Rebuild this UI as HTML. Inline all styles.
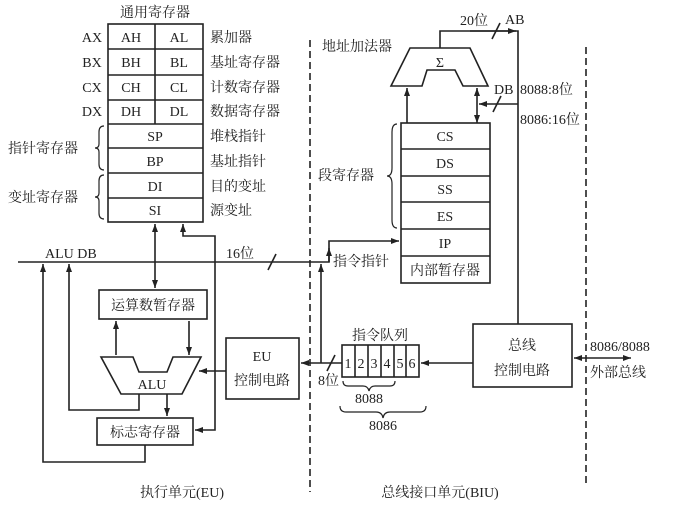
<!DOCTYPE html>
<html><head><meta charset="utf-8"><style>
body{margin:0;background:#fff}
svg{display:block}
text{font-family:"Liberation Serif","Noto Serif CJK SC","Noto Sans CJK SC",serif;font-size:14px;fill:#222}
.c{text-anchor:middle}
</style></head><body>
<svg width="686" height="514" viewBox="0 0 686 514" xmlns="http://www.w3.org/2000/svg">
<defs><marker id="a" markerWidth="8" markerHeight="6" refX="8" refY="3" orient="auto-start-reverse" markerUnits="userSpaceOnUse"><path d="M0,0 L8,3 L0,6z" fill="#222"/></marker></defs>
<g fill="none" stroke="#222" stroke-width="1.6">
<!-- general registers -->
<rect x="108" y="24" width="95" height="198"/>
<path d="M108 49H203M108 75H203M108 100H203M108 124H203M108 148H203M108 173H203M108 198H203M155 24V124"/>
<!-- braces -->
<path d="M104 126 q-5 0 -5 6 v12 q0 4 -4 4 q4 0 4 4 v12 q0 6 5 6" stroke-width="1.2"/>
<path d="M104 175 q-5 0 -5 6 v12 q0 4 -4 4 q4 0 4 4 v12 q0 6 5 6" stroke-width="1.2"/>
<path d="M397 124 q-5 0 -5 8 v36 q0 8 -5 8 q5 0 5 8 v36 q0 8 5 8" stroke-width="1.2"/>
<!-- arrows from reg block -->
<path d="M155 224V288" marker-start="url(#a)" marker-end="url(#a)"/>
<path d="M183 224V236H215V430H195" marker-start="url(#a)" marker-end="url(#a)"/>
<!-- ALU DB bus -->
<path d="M18 262H329V241H399" marker-end="url(#a)"/>
<path d="M329 262V248" marker-end="url(#a)"/>
<path d="M268 270L276 254"/>
<!-- 运算数暂存器 -->
<rect x="99" y="290" width="108" height="29"/>
<path d="M116 321V355M189 321V355" marker-start="url(#a)" marker-end="url(#a)"/>
<!-- ALU -->
<path d="M101 357H133L139 372H167L173 357H201L182 394H121Z"/>
<path d="M226 371H199" marker-end="url(#a)"/>
<path d="M167 394V416" marker-end="url(#a)"/>
<rect x="97" y="418" width="96" height="27"/>
<path d="M139 394V410H69V264" marker-end="url(#a)"/>
<path d="M145 445V462H43V264" marker-end="url(#a)"/>
<!-- EU control -->
<rect x="226" y="338" width="73" height="61"/>
<path d="M342 363H301" marker-end="url(#a)"/>
<path d="M321 363V264" marker-end="url(#a)"/>
<path d="M327 371L335 355"/>
<!-- queue -->
<rect x="342" y="345" width="77" height="32"/>
<path d="M355 345V377M368 345V377M381 345V377M394 345V377M406 345V377"/>
<path d="M473 363H421" marker-end="url(#a)"/>
<path d="M343 381q0 5 5 5h15q5 0 6 5q1-5 6-5h15q5 0 5-5" stroke-width="1.2"/>
<path d="M340 406q0 6 6 6h30q6 0 7 6q1-6 7-6h30q6 0 6-6" stroke-width="1.2"/>
<!-- bus control -->
<rect x="473" y="324" width="99" height="63"/>
<path d="M574 358H631" marker-start="url(#a)" marker-end="url(#a)"/>
<!-- AB -->
<path d="M518 324V31H440V48"/>
<path d="M470 31H516" marker-end="url(#a)"/>
<path d="M492 39L500 23"/>
<!-- adder -->
<path d="M410 48H470L488 86H463L455 70H427L422 86H391Z"/>
<path d="M407 123V88" marker-end="url(#a)"/>
<path d="M477 123V88" marker-start="url(#a)" marker-end="url(#a)"/>
<path d="M518 104H479" marker-end="url(#a)"/>
<path d="M493 112L501 96"/>
<!-- segment block -->
<rect x="401" y="123" width="89" height="160"/>
<path d="M401 149H490M401 176H490M401 202H490M401 229H490M401 256H490"/>
<!-- dashed -->
<path d="M310 40V492M586 47V483" stroke-dasharray="7,4"/>
</g>
<text x="155" y="17" class="c">通用寄存器</text>
<text x="92" y="42" class="c">AX</text><text x="131" y="42" class="c">AH</text><text x="179" y="42" class="c">AL</text><text x="210" y="42">累加器</text>
<text x="92" y="67" class="c">BX</text><text x="131" y="67" class="c">BH</text><text x="179" y="67" class="c">BL</text><text x="210" y="67">基址寄存器</text>
<text x="92" y="92" class="c">CX</text><text x="131" y="92" class="c">CH</text><text x="179" y="92" class="c">CL</text><text x="210" y="92">计数寄存器</text>
<text x="92" y="116" class="c">DX</text><text x="131" y="116" class="c">DH</text><text x="179" y="116" class="c">DL</text><text x="210" y="116">数据寄存器</text>
<text x="155" y="141" class="c">SP</text><text x="210" y="141">堆栈指针</text>
<text x="155" y="166" class="c">BP</text><text x="210" y="166">基址指针</text>
<text x="155" y="191" class="c">DI</text><text x="210" y="191">目的变址</text>
<text x="155" y="215" class="c">SI</text><text x="210" y="215">源变址</text>
<text x="8" y="153">指针寄存器</text><text x="8" y="202">变址寄存器</text>
<text x="45" y="258">ALU DB</text><text x="226" y="258">16位</text>
<text x="153" y="310" class="c">运算数暂存器</text>
<text x="152" y="389" class="c">ALU</text>
<text x="145" y="437" class="c">标志寄存器</text>
<text x="262" y="361" class="c">EU</text><text x="262" y="385" class="c">控制电路</text>
<text x="318" y="385">8位</text>
<text x="380" y="340" class="c">指令队列</text>
<text x="348" y="368" class="c">1</text><text x="361" y="368" class="c">2</text><text x="374" y="368" class="c">3</text><text x="387" y="368" class="c">4</text><text x="400" y="368" class="c">5</text><text x="412" y="368" class="c">6</text>
<text x="369" y="403" class="c">8088</text><text x="383" y="430" class="c">8086</text>
<text x="522" y="350" class="c">总线</text><text x="522" y="375" class="c">控制电路</text>
<text x="590" y="351">8086/8088</text><text x="590" y="377">外部总线</text>
<text x="460" y="25">20位</text><text x="505" y="24">AB</text>
<text x="322" y="51">地址加法器</text>
<text x="440" y="67" class="c">Σ</text>
<text x="494" y="94">DB</text><text x="520" y="94">8088:8位</text><text x="520" y="124">8086:16位</text>
<text x="445" y="141" class="c">CS</text><text x="445" y="168" class="c">DS</text><text x="445" y="194" class="c">SS</text><text x="445" y="221" class="c">ES</text><text x="445" y="248" class="c">IP</text><text x="445" y="275" class="c">内部暂存器</text>
<text x="318" y="180">段寄存器</text>
<text x="333" y="266">指令指针</text>
<text x="182" y="497" class="c">执行单元(EU)</text>
<text x="440" y="497" class="c">总线接口单元(BIU)</text>
</svg>
</body></html>
